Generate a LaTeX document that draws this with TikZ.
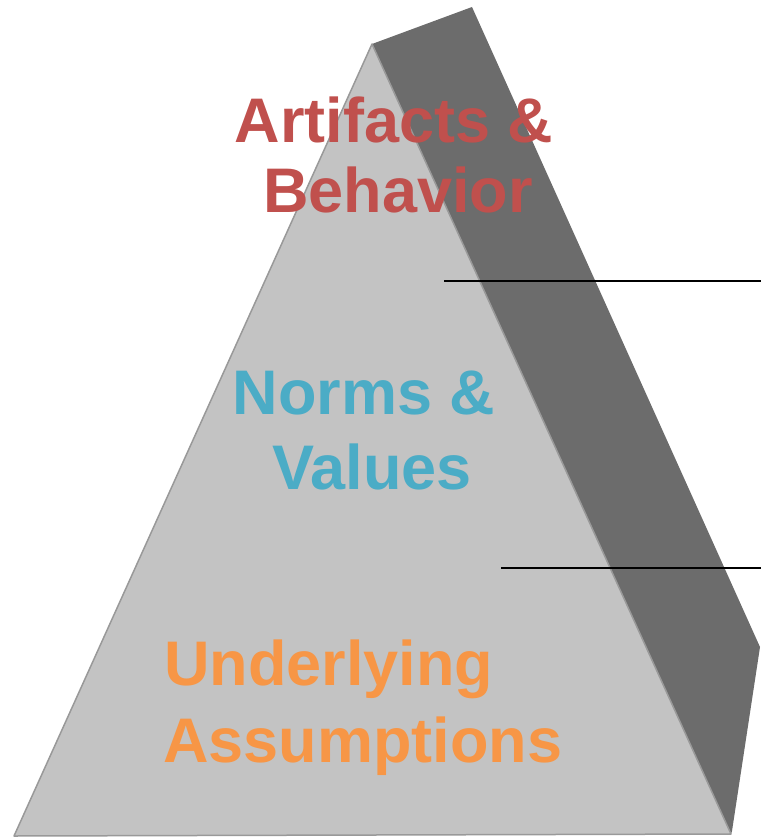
\documentclass[tikz,border=0pt]{standalone}
\usepackage{fontspec}
\setmainfont{Liberation Sans}
\definecolor{frontface}{HTML}{C3C3C3}
\definecolor{sideface}{HTML}{6C6C6C}
\definecolor{edgegray}{HTML}{999999}
\definecolor{artred}{HTML}{C0504D}
\definecolor{normteal}{HTML}{4BACC6}
\definecolor{assumporange}{HTML}{F79646}
\tikzset{
  layertext/.style={font=\fontsize{63}{68}\selectfont\bfseries, inner sep=0pt},
  divider/.style={draw=black, line width=2pt},
}
\begin{document}
\begin{tikzpicture}[x=1pt,y=-1pt]
  \useasboundingbox (0,0) rectangle (761,837);
  % pyramid corners
  \coordinate (apex) at (372,44);
  \coordinate (backtop) at (472,7);
  \coordinate (backright) at (760,647);
  \coordinate (backbottom) at (732,831);
  \coordinate (baseleft) at (14,836);
  \coordinate (baseright) at (731,834);
  % shaded side face
  \fill[sideface] (apex) -- (backtop) -- (backright) -- (backbottom) -- (baseright) -- cycle;
  % front face
  \filldraw[fill=frontface, draw=edgegray, line width=1.5pt, line join=round]
    (apex) -- (baseleft) -- (baseright) -- cycle;
  % layer dividers
  \coordinate (d1a) at (444,281);
  \coordinate (d1b) at (761,281);
  \coordinate (d2a) at (501,568);
  \coordinate (d2b) at (761,568);
  \draw[divider] (d1a) -- (d1b);
  \draw[divider] (d2a) -- (d2b);
  % layer labels
  \node[layertext, text=artred, anchor=base] (art1) at (394,143) {Artifacts \&};
  \node[layertext, text=artred, anchor=base] (art2) at (398,212) {Behavior};
  \node[layertext, text=normteal, anchor=base] (norm1) at (364,414) {Norms \&};
  \node[layertext, text=normteal, anchor=base] (norm2) at (372,489) {Values};
  \node[layertext, text=assumporange, anchor=base west] (und1) at (164,685) {Underlying};
  \node[layertext, text=assumporange, anchor=base west] (und2) at (163,762) {Assumptions};
\end{tikzpicture}
\end{document}
